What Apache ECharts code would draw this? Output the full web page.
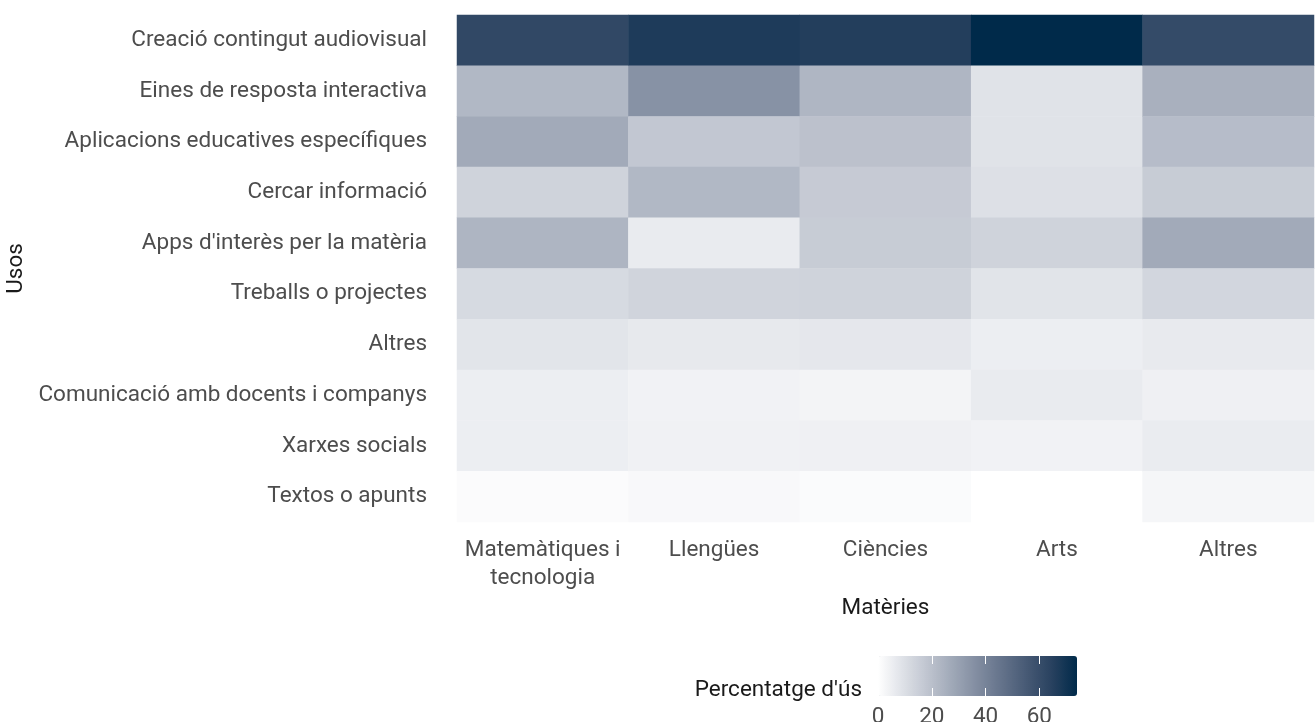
<!DOCTYPE html>
<html>
<head>
<meta charset="utf-8">
<script src="https://cdn.jsdelivr.net/npm/echarts@6/dist/echarts.min.js"></script>
<style>
  html, body { margin: 0; padding: 0; background: #fff; }
  #chart { width: 1316px; height: 722px; }
</style>
</head>
<body>
<div id="chart"></div>
<script>
// usos (rows, top to bottom)
var usos = [
  'Creació contingut audiovisual',
  'Eines de resposta interactiva',
  'Aplicacions educatives específiques',
  'Cercar informació',
  "Apps d'interès per la matèria",
  'Treballs o projectes',
  'Altres',
  'Comunicació amb docents i companys',
  'Xarxes socials',
  'Textos o apunts'
];
// materies (columns)
var materies = ['Matemàtiques i\ntecnologia', 'Llengües', 'Ciències', 'Arts', 'Altres'];

// percentatge d'us per materia, same order as usos
var matematiques = [62, 22.5, 27, 13.7, 23.5, 11.5, 8, 5.2, 5.2, 1.2];
var llengues     = [67, 35, 17.5, 22.5, 6.2, 13.3, 6.8, 4, 4.3, 2.1];
var ciencies     = [66, 23, 19.5, 16.5, 16, 13.7, 7.4, 3.4, 4.6, 1.3];
var arts         = [74, 8.7, 8.7, 9.6, 13.7, 8.3, 5.2, 6.2, 4, 0];
var altres       = [61, 25, 21, 16, 27, 12.7, 6.5, 4.6, 5.8, 2.7];

var legendTicks = [0, 20, 40, 60];
var scaleMin = 0, scaleMax = 74;

var columns = [matematiques, llengues, ciencies, arts, altres];
var cells = [];
columns.forEach(function (col, x) {
  col.forEach(function (v, y) {
    cells.push([x, y, v]);
  });
});

// white -> navy, stops taken along Lab so the greys look like ggplot's
var ramp = ['#ffffff', '#dee1e7', '#bfc4cf', '#9fa8b7', '#818ca0',
            '#63728a', '#465974', '#28415f', '#002a4a'];

var FS = 22.5;

var chart = echarts.init(document.getElementById('chart'));
chart.setOption({
  backgroundColor: '#fff',
  animation: false,
  textStyle: { fontFamily: 'Roboto' },
  grid: [
    { left: 457, right: 2, top: 15, height: 507, outerBoundsMode: 'none' },
    { left: 878, width: 199, top: 656, height: 40, outerBoundsMode: 'none' }
  ],
  xAxis: [
    {
      type: 'category', data: materies, gridIndex: 0,
      axisLine: { show: false }, axisTick: { show: false }, splitLine: { show: false },
      axisLabel: { interval: 0, color: '#4d4d4d', fontSize: FS, margin: 14, lineHeight: 28 },
      name: 'Matèries', nameLocation: 'middle', nameGap: 67,
      nameTextStyle: { color: '#1a1a1a', fontSize: FS, verticalAlign: 'top' }
    },
    {
      type: 'value', gridIndex: 1, min: scaleMin, max: scaleMax, interval: 20,
      z: 10,
      axisLine: { show: false },
      axisTick: { show: true, inside: true, length: 8, lineStyle: { color: '#fff', width: 1 } },
      splitLine: { show: false },
      axisLabel: {
        color: '#4d4d4d', fontSize: FS, margin: 10,
        formatter: function (v) { return legendTicks.indexOf(v) >= 0 ? String(v) : ''; }
      }
    },
    {
      type: 'value', gridIndex: 1, position: 'top', min: scaleMin, max: scaleMax, interval: 20,
      z: 10,
      axisLine: { show: false },
      axisTick: { show: true, inside: true, length: 8, lineStyle: { color: '#fff', width: 1 } },
      splitLine: { show: false },
      axisLabel: { show: false }
    }
  ],
  yAxis: [
    {
      type: 'category', data: usos, inverse: true, gridIndex: 0,
      axisLine: { show: false }, axisTick: { show: false }, splitLine: { show: false },
      axisLabel: { interval: 0, color: '#4d4d4d', fontSize: FS, margin: 30 },
      name: 'Usos', nameLocation: 'middle', nameGap: 422, nameRotate: 90,
      nameTextStyle: { color: '#1a1a1a', fontSize: FS }
    },
    {
      type: 'value', gridIndex: 1, show: false, min: 0, max: 1
    }
  ],
  visualMap: {
    type: 'continuous',
    seriesIndex: 0,
    min: scaleMin, max: scaleMax,
    orient: 'horizontal',
    left: 878, top: 656,
    itemWidth: 40, itemHeight: 199,
    padding: 0,
    calculable: false,
    hoverLink: false,
    text: null,
    showLabel: false,
    inRange: { color: ramp }
  },
  graphic: [{
    type: 'text',
    right: 1316 - 862,
    top: 679,
    style: { text: "Percentatge d'ús", fontSize: FS, fontFamily: 'Roboto', fill: '#1a1a1a' }
  }],
  series: [{
    type: 'heatmap',
    xAxisIndex: 0, yAxisIndex: 0,
    data: cells,
    itemStyle: { borderWidth: 0 },
    emphasis: { disabled: true }
  }]
});
</script>
</body>
</html>
